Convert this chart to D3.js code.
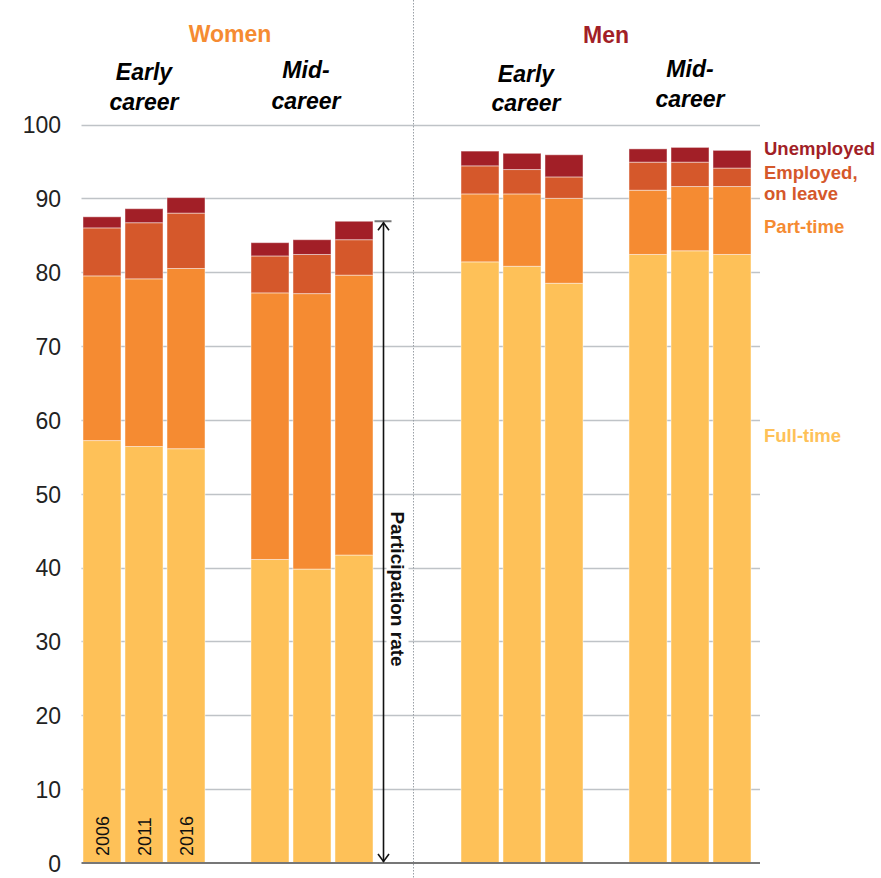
<!DOCTYPE html>
<html><head><meta charset="utf-8">
<script src="https://cdn.jsdelivr.net/npm/d3@7"></script>
<style>body{margin:0;background:#fff}svg{display:block;font-family:"Liberation Sans",Arial,sans-serif}</style>
</head><body>
<svg id="c" width="881" height="878"></svg>
<script>
const years = ["2006","2011","2016"];
const groups = ["Women early","Women mid","Men early","Men mid"];
const seriesNames = ["Full-time","Part-time","Employed, on leave","Unemployed"];
const fullTime  = [57.2,56.4,56.1, 41.1,39.8,41.7, 81.4,80.8,78.5, 82.4,82.9,82.4];
const partTime  = [22.3,22.7,24.4, 36.1,37.3,37.9,  9.2, 9.8,11.5,  8.7, 8.7, 9.2];
const onLeave   = [ 6.5, 7.6, 7.5,  5.0, 5.3, 4.8,  3.8, 3.3, 2.9,  3.8, 3.3, 2.5];
const unemployed= [ 1.5, 1.9, 2.1,  1.8, 2.0, 2.5,  2.0, 2.2, 3.0,  1.8, 2.0, 2.4];
const yTicks = [0,10,20,30,40,50,60,70,80,90,100];
const colors = ["#FEC158","#F58B32","#D5582B","#A21F27"];

const svg = d3.select("#c");
const y = d3.scaleLinear().domain([0,100]).range([863,124.5]);

// slot layout: 3 bars, gap, 3 bars, 2 gaps, 3 bars, gap, 3 bars
const slots = [];
const gapsAfter = [1,2,1,0];
groups.forEach((g,gi)=>{
  years.forEach(yr=>slots.push(g+"|"+yr));
  for(let k=0;k<gapsAfter[gi];k++) slots.push("gap"+gi+"_"+k);
});
const x = d3.scaleBand().domain(slots).range([81,753]).paddingInner(0.095).paddingOuter(0.0475);

const rows = [];
groups.forEach((g,gi)=>years.forEach((yr,yi)=>{
  const i = gi*3+yi;
  rows.push({key:g+"|"+yr, year:yr, group:g,
    "Full-time":fullTime[i],"Part-time":partTime[i],"Employed, on leave":onLeave[i],"Unemployed":unemployed[i]});
}));
const stacked = d3.stack().keys(seriesNames)(rows);

// gridlines
svg.append("g").selectAll("line").data(yTicks.filter(d=>d>0)).join("line")
  .attr("x1",81.5).attr("x2",760).attr("y1",d=>Math.round(y(d))+0.5).attr("y2",d=>Math.round(y(d))+0.5)
  .attr("stroke","#BFC3C7").attr("stroke-width",1.3);

// y axis labels
const yAxis = d3.axisLeft(y).tickValues(yTicks).tickSize(0).tickPadding(0);
const ya = svg.append("g").attr("transform","translate(61,0)").call(yAxis);
ya.select(".domain").remove();
ya.selectAll("text").attr("font-size",23).attr("fill","#222").attr("font-family","Liberation Sans, Arial, sans-serif").attr("dy","0.36em");

// dotted separator
svg.append("line").attr("x1",413.5).attr("x2",413.5).attr("y1",0).attr("y2",878)
  .attr("stroke","#9aa0a6").attr("stroke-width",1).attr("stroke-dasharray","1.5,1.5");

// bars
svg.append("g").selectAll("g").data(stacked).join("g")
  .attr("fill",(d,i)=>colors[i])
  .selectAll("rect").data(d=>d).join("rect")
  .attr("x",d=>x(d.data.key)).attr("width",x.bandwidth())
  .attr("y",d=>y(d[1])).attr("height",d=>y(d[0])-y(d[1]))
  .attr("stroke","rgba(255,255,255,0.45)").attr("stroke-width",1);

// baseline
svg.append("line").attr("x1",81.5).attr("x2",760).attr("y1",y(0)).attr("y2",y(0))
  .attr("stroke","#777").attr("stroke-width",2);

// year labels inside first group
rows.filter(r=>r.group===groups[0]).forEach(r=>{
  const cx = x(r.key)+x.bandwidth()/2;
  svg.append("text").attr("transform",`translate(${cx+6.5},${y(0)-7}) rotate(-90)`)
    .attr("font-size",18).attr("fill","#111").text(r.year);
});

// participation arrow
const midRow = rows.find(r=>r.key==="Women mid|2016");
const total = seriesNames.reduce((s,k)=>s+midRow[k],0);
const ax = x(midRow.key)+x.bandwidth()+10.5;
svg.append("line").attr("x1",ax-9).attr("x2",ax+8).attr("y1",y(total)).attr("y2",y(total)).attr("stroke","#777").attr("stroke-width",2);
svg.append("line").attr("x1",ax).attr("x2",ax).attr("y1",y(total)+1).attr("y2",y(0)-1).attr("stroke","#111").attr("stroke-width",1.6);
svg.append("path").attr("d",`M${ax-5.5},${y(total)+9}L${ax},${y(total)+1.5}L${ax+5.5},${y(total)+9}`).attr("fill","none").attr("stroke","#111").attr("stroke-width",1.6);
svg.append("path").attr("d",`M${ax-5.5},${y(0)-9}L${ax},${y(0)-1.5}L${ax+5.5},${y(0)-9}`).attr("fill","none").attr("stroke","#111").attr("stroke-width",1.6);
svg.append("rect").attr("x",ax+3).attr("y",503).attr("width",22).attr("height",172).attr("fill","#fff");
svg.append("text").attr("transform",`translate(${ax+7},589) rotate(90)`).attr("text-anchor","middle")
  .attr("font-size",19).attr("font-weight","bold").attr("fill","#111").text("Participation rate");

// headers
const gcenter = g => (x(g+"|2006")+x(g+"|2016")+x.bandwidth())/2;
svg.append("text").attr("x",230).attr("y",42).attr("text-anchor","middle").attr("font-size",23).attr("font-weight","bold").attr("fill","#F58B32").text("Women");
svg.append("text").attr("x",606).attr("y",43).attr("text-anchor","middle").attr("font-size",23).attr("font-weight","bold").attr("fill","#A21F27").text("Men");
const sub = [
  {g:"Women early",l:["Early","career"],dx:0,yy:[80,110]},
  {g:"Women mid",l:["Mid-","career"],dx:-6,yy:[78,109]},
  {g:"Men early",l:["Early","career"],dx:4,yy:[82,111]},
  {g:"Men mid",l:["Mid-","career"],dx:0,yy:[77,107]}
];
sub.forEach(s=>{
  s.l.forEach((t,i)=>svg.append("text").attr("x",gcenter(s.g)+s.dx).attr("y",s.yy[i])
    .attr("text-anchor","middle").attr("font-size",23).attr("font-weight","bold").attr("font-style","italic").attr("fill","#000").text(t));
});

// legend labels
const leg = [
  {t:["Unemployed"],c:colors[3],y:155},
  {t:["Employed,","on leave"],c:colors[2],y:179},
  {t:["Part-time"],c:colors[1],y:233},
  {t:["Full-time"],c:colors[0],y:442}
];
leg.forEach(l=>l.t.forEach((t,i)=>svg.append("text").attr("x",764).attr("y",l.y+i*21)
  .attr("font-size",18.5).attr("font-weight","bold").attr("fill",l.c).text(t)));
</script>
</body></html>
